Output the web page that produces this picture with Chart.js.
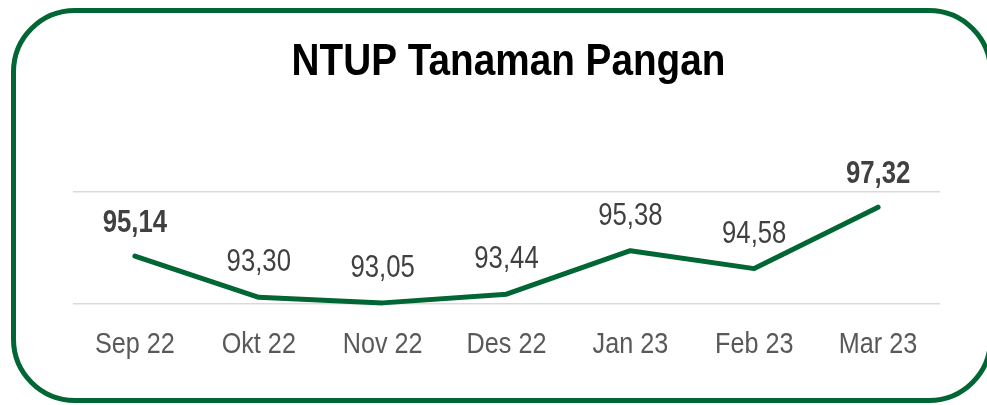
<!DOCTYPE html>
<html>
<head>
<meta charset="utf-8">
<script src="https://cdn.jsdelivr.net/npm/chart.js@4"></script>
<style>
  html, body { margin: 0; padding: 0; background: #ffffff; overflow: hidden; }
  #frame {
    position: absolute; left: 11px; top: 8px; width: 982px; height: 395px;
    box-sizing: border-box; border: 5px solid #006633; border-radius: 64px;
  }
  #wrap { position: absolute; left: 0; top: 0; width: 987px; height: 405px; }
</style>
</head>
<body>
<div id="frame"></div>
<div id="wrap"><canvas id="c" width="987" height="405"></canvas></div>
<script>
const categories = ["Sep 22", "Okt 22", "Nov 22", "Des 22", "Jan 23", "Feb 23", "Mar 23"];
const ntupValues = [95.14, 93.30, 93.05, 93.44, 95.38, 94.58, 97.32];
const boldLabels = [true, false, false, false, false, false, true];
const titleText = "NTUP Tanaman Pangan";
const axisMin = 93, axisMax = 98, axisStep = 5;

const FONT = "'Liberation Sans', Arial, sans-serif";

function narrowText(ctx, txt, x, y, font, color, sx) {
  ctx.save();
  ctx.font = font;
  ctx.fillStyle = color;
  ctx.textAlign = 'center';
  ctx.textBaseline = 'alphabetic';
  ctx.translate(x, y);
  ctx.scale(sx, 1);
  ctx.fillText(txt, 0, 0);
  ctx.restore();
}

const textPlugin = {
  id: 'narrowTexts',
  afterDraw(chart) {
    const ctx = chart.ctx;
    const xs = chart.scales.x;
    const area = chart.chartArea;
    // title
    narrowText(ctx, titleText, (area.left + area.right) / 2 + 2, 75,
      'bold 44px ' + FONT, '#000000', 0.88);
    // category tick labels
    chart.data.labels.forEach((lab, i) => {
      narrowText(ctx, lab, xs.getPixelForValue(i), area.bottom + 49,
        '30px ' + FONT, '#595959', 0.84);
    });
    // value labels
    const meta = chart.getDatasetMeta(0);
    meta.data.forEach((pt, i) => {
      const v = chart.data.datasets[0].data[i];
      const txt = v.toFixed(2).replace('.', ',');
      const bold = boldLabels[i];
      narrowText(ctx, txt, pt.x, pt.y - (bold ? 24 : 26),
        (bold ? 'bold ' : '') + '31px ' + FONT, '#404040', 0.83);
    });
  }
};

new Chart(document.getElementById('c'), {
  type: 'line',
  data: {
    labels: categories,
    datasets: [{
      data: ntupValues,
      borderColor: '#006633',
      borderWidth: 5,
      borderCapStyle: 'round',
      borderJoinStyle: 'round',
      pointRadius: 0,
      tension: 0,
      fill: false,
      clip: false
    }]
  },
  options: {
    responsive: false,
    animation: false,
    layout: { padding: { left: 73, right: 47, top: 192, bottom: 93 } },
    plugins: {
      legend: { display: false },
      tooltip: { enabled: false },
      title: { display: false }
    },
    scales: {
      x: {
        offset: true,
        grid: { display: false },
        border: { display: false },
        ticks: { display: false }
      },
      y: {
        min: axisMin, max: axisMax,
        grid: { color: '#d9d9d9', lineWidth: 1.5, drawTicks: false },
        border: { display: false },
        ticks: { display: false, stepSize: axisStep }
      }
    }
  },
  plugins: [textPlugin]
});
</script>
</body>
</html>
